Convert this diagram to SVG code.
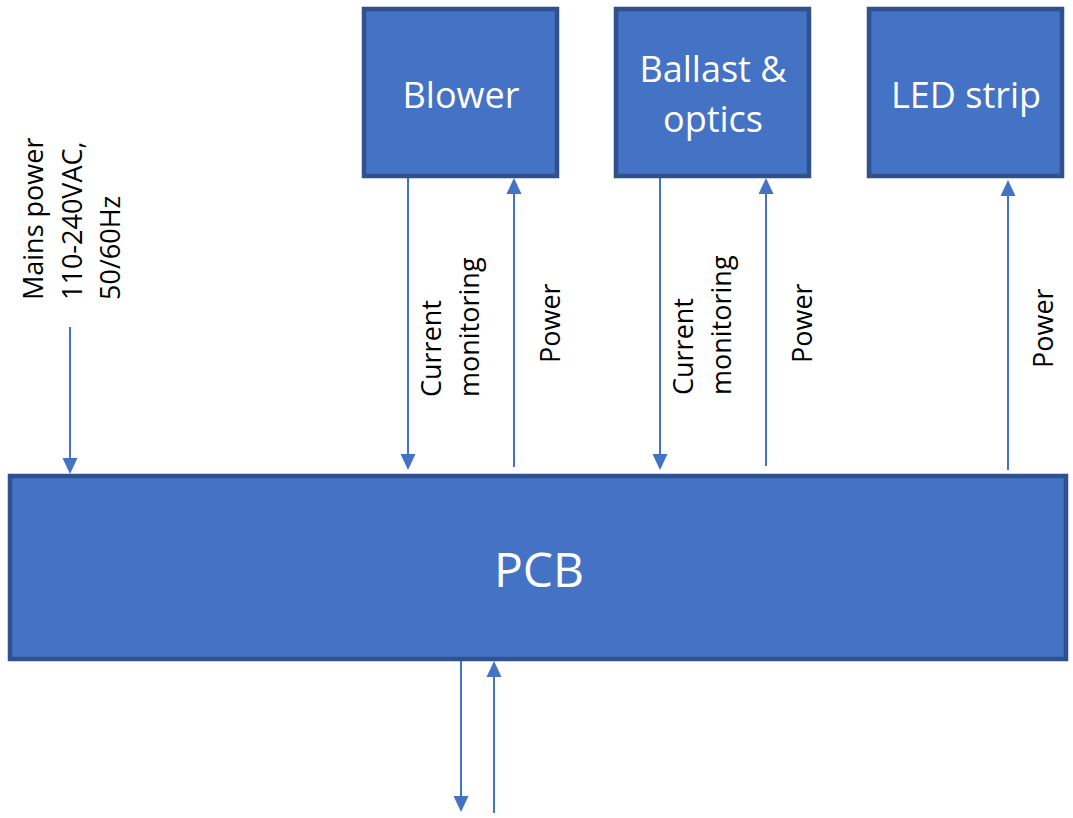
<svg xmlns="http://www.w3.org/2000/svg" width="1073" height="818" viewBox="0 0 1073 818">
  <style>
    .box { fill: #4472C4; stroke: #2F528F; stroke-width: 4.5; }
    .boxlabel { fill: #FFFFFF; font-family: "Open Sans", "Liberation Sans", sans-serif; font-size: 36px; text-anchor: middle; }
    .pcblabel { fill: #FFFFFF; font-family: "Open Sans", "Liberation Sans", sans-serif; font-size: 48px; text-anchor: middle; }
    .lbl { fill: #000000; font-family: "Open Sans", "Liberation Sans", sans-serif; font-size: 27px; }
    .conn { stroke: #4472C4; stroke-width: 2; fill: none; marker-end: url(#arrow); }
  </style>
  <defs>
    <marker id="arrow" markerUnits="userSpaceOnUse" markerWidth="16" markerHeight="16" viewBox="0 0 16 16" refX="6" refY="8" orient="auto">
      <path d="M0,0.5 L16,8 L0,15.5 Z" fill="#4472C4"/>
    </marker>
  </defs>

  <g id="connectors">
    <line class="conn" x1="70" y1="327" x2="70" y2="464"/>
    <line class="conn" x1="408" y1="178" x2="408" y2="460"/>
    <line class="conn" x1="514" y1="467" x2="514" y2="188"/>
    <line class="conn" x1="660" y1="178" x2="660" y2="460"/>
    <line class="conn" x1="766" y1="466" x2="766" y2="188"/>
    <line class="conn" x1="1008" y1="470" x2="1008" y2="190"/>
    <line class="conn" x1="461" y1="660" x2="461" y2="802"/>
    <line class="conn" x1="494" y1="813" x2="494" y2="671"/>
  </g>

  <g id="labels">
    <text class="lbl" transform="translate(43,300) rotate(-90)">
      <tspan x="0" y="0">Mains power</tspan>
      <tspan x="0" y="39">110-240VAC,</tspan>
      <tspan x="0" y="77">50/60Hz</tspan>
    </text>
    <text class="lbl" transform="translate(441,397) rotate(-90)">
      <tspan x="0" y="0">Current</tspan>
      <tspan x="0" y="38">monitoring</tspan>
    </text>
    <text class="lbl" transform="translate(560,363) rotate(-90)">Power</text>
    <text class="lbl" transform="translate(693,395) rotate(-90)">
      <tspan x="0" y="0">Current</tspan>
      <tspan x="0" y="38">monitoring</tspan>
    </text>
    <text class="lbl" transform="translate(812,363) rotate(-90)">Power</text>
    <text class="lbl" transform="translate(1053,368) rotate(-90)">Power</text>
  </g>

  <g id="blower">
    <rect class="box" x="364" y="9" width="193" height="167"/>
    <text class="boxlabel" x="461" y="108">Blower</text>
  </g>

  <g id="ballast">
    <rect class="box" x="616" y="9" width="193" height="167"/>
    <text class="boxlabel" x="713" y="82">Ballast &amp;</text>
    <text class="boxlabel" x="713" y="132">optics</text>
  </g>

  <g id="led-strip">
    <rect class="box" x="869" y="9" width="193" height="167"/>
    <text class="boxlabel" x="966" y="108">LED strip</text>
  </g>

  <g id="pcb">
    <rect class="box" x="10" y="476" width="1056" height="183"/>
    <text class="pcblabel" x="539" y="587">PCB</text>
  </g>
</svg>
